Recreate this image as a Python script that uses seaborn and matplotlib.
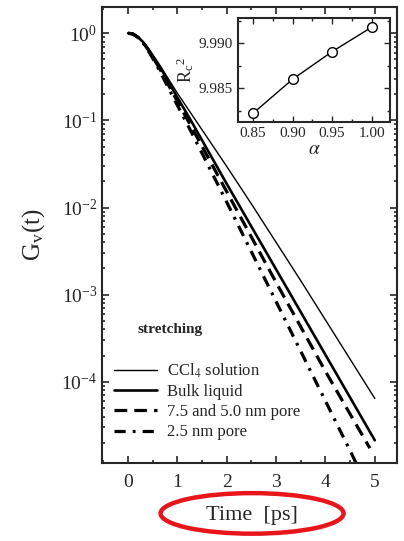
import numpy as np
import pandas as pd
import matplotlib
matplotlib.use("Agg")
import matplotlib.pyplot as plt
from matplotlib.patches import Ellipse
from matplotlib.lines import Line2D
from matplotlib.ticker import LogLocator, MultipleLocator, NullFormatter, LogFormatterMathtext
import seaborn as sns

# Time axis (ps) and log10 of the vibrational correlation function for each system
t_full = [0.0, 0.1, 0.2, 0.3, 0.4, 0.5, 0.6, 0.7, 0.8, 0.9, 1.0, 1.25, 1.5, 1.75,
          2.0, 2.5, 3.0, 3.5, 4.0, 4.5, 5.0]
log_ccl4 = [0.0, -0.01, -0.045, -0.10, -0.17, -0.25, -0.33, -0.42, -0.51, -0.60, -0.69,
            -0.90, -1.11, -1.32, -1.53, -1.96, -2.40, -2.84, -3.29, -3.74, -4.19]
log_bulk = [0.0, -0.01, -0.045, -0.10, -0.175, -0.26, -0.35, -0.44, -0.54, -0.64, -0.74,
            -0.98, -1.23, -1.48, -1.73, -2.22, -2.71, -3.20, -3.69, -4.18, -4.67]
t_pore75 = [0.0, 0.1, 0.2, 0.3, 0.4, 0.5, 0.6, 0.7, 0.8, 0.9, 1.0, 1.25, 1.5, 1.75,
            2.0, 2.5, 3.0, 3.5, 4.0, 4.5, 4.9]
log_pore75 = [0.0, -0.01, -0.047, -0.105, -0.185, -0.275, -0.37, -0.47, -0.575, -0.68, -0.785,
              -1.04, -1.30, -1.56, -1.82, -2.34, -2.86, -3.37, -3.88, -4.37, -4.76]
t_pore25 = [0.0, 0.1, 0.2, 0.3, 0.4, 0.5, 0.6, 0.7, 0.8, 0.9, 1.0, 1.25, 1.5, 1.75,
            2.0, 2.5, 3.0, 3.5, 4.0, 4.5, 4.62]
log_pore25 = [0.0, -0.01, -0.05, -0.11, -0.195, -0.29, -0.39, -0.50, -0.61, -0.72, -0.83,
              -1.10, -1.38, -1.66, -1.94, -2.51, -3.08, -3.65, -4.22, -4.79, -4.93]

series_names = ["CCl$_4$ solution", "Bulk liquid", "7.5 and 5.0 nm pore", "2.5 nm pore"]

# Inset: fitted R_c^2 against alpha
alpha = [0.85, 0.90, 0.95, 1.00]
rc2 = [9.98222, 9.98600, 9.98907, 9.99178]

sns.set_style("ticks")
plt.rcParams["font.family"] = ["Liberation Serif", "DejaVu Serif"]
plt.rcParams["mathtext.fontset"] = "stix"

fig = plt.figure(figsize=(4.04, 5.41), dpi=100)
ax = fig.add_axes([0.2525, 0.1442, 0.7302, 0.8428])

styles = [
    dict(lw=1.0, ls="-"),
    dict(lw=1.9, ls="-"),
    dict(lw=2.3, ls=(0, (4, 2.2))),
    dict(lw=2.3, ls=(0, (3.5, 2.2, 0.9, 2.2))),
]
curves = [(t_full, log_ccl4), (t_full, log_bulk), (t_pore75, log_pore75), (t_pore25, log_pore25)]

for (tt, lg), name, st in zip(curves, series_names, styles):
    df = pd.DataFrame({"t": tt, "G": 10.0 ** np.asarray(lg)})
    sns.lineplot(data=df, x="t", y="G", ax=ax, color="black",
                 linewidth=st["lw"], linestyle=st["ls"])

ax.set_yscale("log")
ax.set_xlim(-0.53, 5.45)
ax.set_ylim(10 ** -4.93, 10 ** 0.30)
ax.xaxis.set_major_locator(MultipleLocator(1))
ax.xaxis.set_minor_locator(MultipleLocator(0.5))
ax.yaxis.set_major_locator(LogLocator(base=10, numticks=10))
ax.yaxis.set_minor_locator(LogLocator(base=10, subs=np.arange(2, 10), numticks=20))
ax.yaxis.set_major_formatter(LogFormatterMathtext())
ax.yaxis.set_minor_formatter(NullFormatter())
ax.tick_params(which="both", direction="in", top=True, right=True, labelsize=14, width=1.2)
ax.tick_params(which="major", length=5)
ax.tick_params(which="minor", length=2.5)
ax.tick_params(axis="x", pad=8)
for sp in ax.spines.values():
    sp.set_linewidth(1.5)

ax.set_xlabel("")
ax.set_ylabel(r"G$_\mathregular{v}$(t)", fontsize=18, labelpad=10)

ax.text(0.119, 0.292, "stretching", transform=ax.transAxes, fontsize=11,
        fontweight="bold", va="center")

handles = [Line2D([], [], color="black", linewidth=st["lw"], linestyle=st["ls"]) for st in styles]
ax.legend(handles, series_names, loc="lower left", bbox_to_anchor=(0.0, 0.024),
          frameon=False, fontsize=12, handlelength=2.6, handletextpad=0.6,
          labelspacing=0.25, borderaxespad=0.3)

fig.text(0.624, 0.047, "Time  [ps]", ha="center", va="center", fontsize=16)
fig.patches.append(Ellipse((0.624, 0.051), 0.453, 0.075, transform=fig.transFigure,
                           fill=False, edgecolor="#e8151b", linewidth=3.2))

# Inset
ins = fig.add_axes([0.589, 0.7745, 0.376, 0.1922])
sns.lineplot(x=alpha, y=rc2, ax=ins, color="black", linewidth=1.0, marker="o",
             markersize=7, markerfacecolor="white", markeredgecolor="black",
             markeredgewidth=1.0)
ins.set_xlim(0.831, 1.023)
ins.set_ylim(9.98126, 9.9928)
ins.xaxis.set_major_locator(MultipleLocator(0.05))
ins.xaxis.set_minor_locator(MultipleLocator(0.025))
ins.yaxis.set_major_locator(MultipleLocator(0.005))
ins.yaxis.set_minor_locator(MultipleLocator(0.0025))
ins.xaxis.set_major_formatter(plt.FormatStrFormatter("%.2f"))
ins.yaxis.set_major_formatter(plt.FormatStrFormatter("%.3f"))
ins.tick_params(which="both", direction="in", top=True, right=True, labelsize=11, width=1.0)
ins.tick_params(which="major", length=4)
ins.tick_params(which="minor", length=2)
for sp in ins.spines.values():
    sp.set_linewidth(1.5)
ins.set_xlabel(r"$\alpha$", fontsize=14, labelpad=1)
ins.set_ylabel(r"R$_\mathregular{c}$$^\mathregular{2}$", fontsize=13, labelpad=2)

fig.savefig("out.png", dpi=100)
